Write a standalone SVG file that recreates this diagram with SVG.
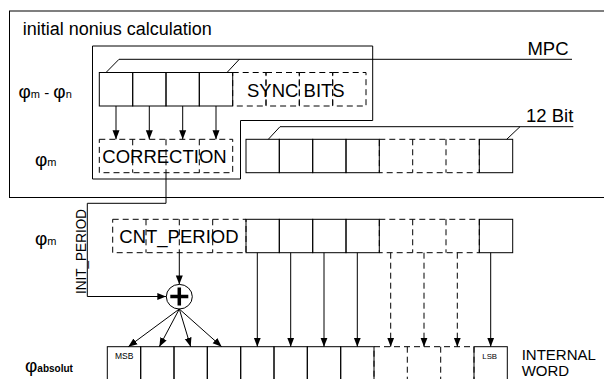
<svg xmlns="http://www.w3.org/2000/svg" width="604" height="379" viewBox="0 0 604 379">
<defs>
<style>
.s{fill:none;stroke:#000;stroke-width:1}
.d{fill:none;stroke:#000;stroke-width:1;stroke-dasharray:6,4}
.t{font-family:"Liberation Sans",Arial,sans-serif;fill:#000}
.b{font-size:18.5px}
.phi{font-size:19px}
</style>
<marker id="ah" markerWidth="9" markerHeight="8" refX="9" refY="4" orient="auto" markerUnits="userSpaceOnUse">
<path d="M0,0.5 L9,4 L0,7.5 z" fill="#000"/>
</marker>
</defs>
<rect width="604" height="379" fill="#fff"/>

<g id="outer-box">
<rect class="s" x="9.5" y="11" width="620" height="186.5"/>
<text class="t" x="22.7" y="34.5" font-size="18">initial nonius calculation</text>
</g>

<g id="inner-box">
<path class="s" d="M92.5,46 H372.7 V120.5 H240.5 V179 H92.5 Z"/>
</g>

<g id="labels">
<text class="t" x="18.5" y="98" font-size="15"><tspan class="phi">φ</tspan><tspan font-size="11">m</tspan> - <tspan class="phi">φ</tspan><tspan font-size="11">n</tspan></text>
<text class="t" x="35" y="165.5" font-size="15"><tspan class="phi">φ</tspan><tspan font-size="11">m</tspan></text>
<text class="t" x="35" y="244.5" font-size="15"><tspan class="phi">φ</tspan><tspan font-size="11">m</tspan></text>
<text class="t" x="25" y="371.5" font-size="15"><tspan class="phi">φ</tspan><tspan font-size="10" font-weight="bold">absolut</tspan></text>
</g>

<g id="mpc-row">
<rect class="d" x="232.7" y="72.5" width="33.3" height="33.5"/>
<rect class="d" x="266" y="72.5" width="33.3" height="33.5"/>
<rect class="d" x="299.3" y="72.5" width="33.4" height="33.5"/>
<rect class="d" x="332.7" y="72.5" width="33.3" height="33.5"/>
<rect class="s" x="99.3" y="72.5" width="33.4" height="33.5"/>
<rect class="s" x="132.7" y="72.5" width="33.3" height="33.5"/>
<rect class="s" x="166" y="72.5" width="33.3" height="33.5"/>
<rect class="s" x="199.3" y="72.5" width="33.4" height="33.5"/>
<text class="t b" x="247" y="96.5">SYNC BITS</text>
<path class="s" d="M106,72.5 L119,59.3 H572 M227,72.5 L239.3,59.3"/>
<text class="t b" x="568.5" y="55" text-anchor="end">MPC</text>
</g>

<g id="correction">
<rect class="d" x="99.3" y="139.3" width="133.4" height="33.4"/>
<path class="d" d="M132.7,139.3 V172.7 M166,139.3 V172.7 M199.3,139.3 V172.7"/>
<text class="t b" x="102.3" y="163">CORRECTION</text>
</g>

<g id="bit12-row">
<rect class="d" x="379.3" y="139.3" width="100" height="33.4"/>
<path class="d" d="M412.7,139.3 V172.7 M446,139.3 V172.7"/>
<rect class="s" x="246" y="139.3" width="33.3" height="33.4"/>
<rect class="s" x="279.3" y="139.3" width="33.4" height="33.4"/>
<rect class="s" x="312.7" y="139.3" width="33.3" height="33.4"/>
<rect class="s" x="346" y="139.3" width="33.3" height="33.4"/>
<rect class="s" x="479.3" y="139.3" width="33.4" height="33.4"/>
<path class="s" d="M268.3,139.3 L280,126.7 H573.3 M506.7,139.3 L520,126.7"/>
<text class="t b" x="573.3" y="121.7" text-anchor="end">12 Bit</text>
</g>

<g id="cnt-period-row">
<rect class="d" x="112.7" y="219.3" width="133.3" height="33.4"/>
<path class="d" d="M146,219.3 V252.7 M179.3,219.3 V252.7 M212.7,219.3 V252.7"/>
<rect class="d" x="379.3" y="219.3" width="100" height="33.4"/>
<path class="d" d="M412.7,219.3 V252.7 M446,219.3 V252.7"/>
<rect class="s" x="246" y="219.3" width="33.3" height="33.4"/>
<rect class="s" x="279.3" y="219.3" width="33.4" height="33.4"/>
<rect class="s" x="312.7" y="219.3" width="33.3" height="33.4"/>
<rect class="s" x="346" y="219.3" width="33.3" height="33.4"/>
<rect class="s" x="479.3" y="219.3" width="33.4" height="33.4"/>
<text class="t b" x="119.3" y="243.3">CNT_PERIOD</text>
</g>

<g id="adder">
<ellipse class="s" cx="179.3" cy="296.7" rx="13" ry="12.3"/>
<path d="M170.3,296.5 H188.3 M179.3,287.5 V305.5" stroke="#000" stroke-width="3.5" fill="none"/>
</g>

<g id="internal-word">
<rect class="d" x="374" y="346.7" width="100" height="50"/>
<path class="d" d="M407.3,346.7 V400 M440.7,346.7 V400"/>
<rect class="s" x="107.3" y="346.7" width="33.4" height="50"/>
<rect class="s" x="140.7" y="346.7" width="33.3" height="50"/>
<rect class="s" x="174" y="346.7" width="33.3" height="50"/>
<rect class="s" x="207.3" y="346.7" width="33.4" height="50"/>
<rect class="s" x="240.7" y="346.7" width="33.3" height="50"/>
<rect class="s" x="274" y="346.7" width="33.3" height="50"/>
<rect class="s" x="307.3" y="346.7" width="33.4" height="50"/>
<rect class="s" x="340.7" y="346.7" width="33.3" height="50"/>
<rect class="s" x="474" y="346.7" width="33.3" height="50"/>
<text class="t" x="115" y="359.3" font-size="8.5">MSB</text>
<text class="t" x="482.3" y="359.3" font-size="7.8">LSB</text>
<text class="t" x="521.7" y="360" font-size="15">INTERNAL</text>
<text class="t" x="521.7" y="375.7" font-size="15">WORD</text>
</g>

<g id="connectors">
<line class="s" x1="116" y1="106" x2="116" y2="139.3" marker-end="url(#ah)"/>
<line class="s" x1="149.3" y1="106" x2="149.3" y2="139.3" marker-end="url(#ah)"/>
<line class="s" x1="182.7" y1="106" x2="182.7" y2="139.3" marker-end="url(#ah)"/>
<line class="s" x1="216" y1="106" x2="216" y2="139.3" marker-end="url(#ah)"/>
<path class="s" d="M166,172.7 V203.3 H87.3 V296.5 H166.3" marker-end="url(#ah)"/>
<text class="t" transform="translate(86,294) rotate(-90)" font-size="15" textLength="85" lengthAdjust="spacingAndGlyphs">INIT_PERIOD</text>
<line class="s" x1="179.3" y1="252.7" x2="179.3" y2="284.4" marker-end="url(#ah)"/>
<line class="s" x1="179.3" y1="309" x2="128.3" y2="346.7" marker-end="url(#ah)"/>
<line class="s" x1="179.3" y1="309" x2="159.3" y2="346.7" marker-end="url(#ah)"/>
<line class="s" x1="179.3" y1="309" x2="190.7" y2="346.7" marker-end="url(#ah)"/>
<line class="s" x1="179.3" y1="309" x2="221.7" y2="346.7" marker-end="url(#ah)"/>
<line class="s" x1="257.3" y1="252.7" x2="257.3" y2="346.7" marker-end="url(#ah)"/>
<line class="s" x1="290.7" y1="252.7" x2="290.7" y2="346.7" marker-end="url(#ah)"/>
<line class="s" x1="324" y1="252.7" x2="324" y2="346.7" marker-end="url(#ah)"/>
<line class="s" x1="357.3" y1="252.7" x2="357.3" y2="346.7" marker-end="url(#ah)"/>
<line class="d" x1="390.7" y1="252.7" x2="390.7" y2="346.7" marker-end="url(#ah)"/>
<line class="d" x1="424" y1="252.7" x2="424" y2="346.7" marker-end="url(#ah)"/>
<line class="d" x1="457.3" y1="252.7" x2="457.3" y2="346.7" marker-end="url(#ah)"/>
<line class="s" x1="490.7" y1="252.7" x2="490.7" y2="346.7" marker-end="url(#ah)"/>
</g>
</svg>
